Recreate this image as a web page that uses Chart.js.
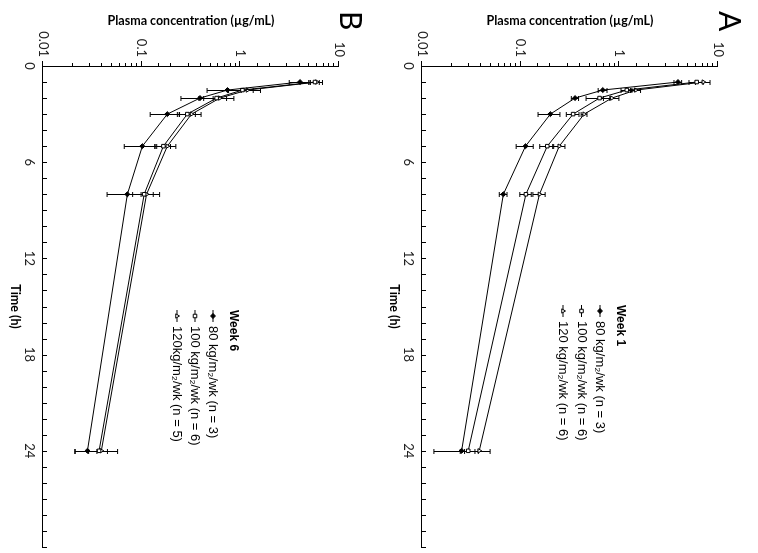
<!DOCTYPE html>
<html>
<head>
<meta charset="utf-8">
<script src="https://cdn.jsdelivr.net/npm/chart.js@4.4.0/dist/chart.umd.min.js"></script>
<style>
  html, body { margin: 0; padding: 0; background: #fff; overflow: hidden; width: 758px; height: 553px; }
  /* the figure is drawn upright and then turned a quarter turn clockwise */
  #fig { position: absolute; left: 0; top: 0; width: 553px; height: 758px;
         transform-origin: 0 0; transform: translate(758px, 0) rotate(90deg); }
  canvas { display: block; }
</style>
</head>
<body>
<div id="fig">
  <canvas id="chartA" width="553" height="379"></canvas>
  <canvas id="chartB" width="553" height="379"></canvas>
</div>
<script>
// sampling times (h)
const times = [1, 1.5, 2, 3, 5, 8, 24];
const yTickLabels = ['0.01', '0.1', '1', '10'];
const timeTickLabels = [0, 6, 12, 18, 24];

// Week 1 (panel A), mean and SD in µg/mL
const a80 = [3.93, 0.68, 0.356, 0.20, 0.112, 0.0667, 0.0252];
const a80sd = [0.35, 0.07, 0.03, 0.05, 0.022, 0.006, 0.012];
const a100 = [6.08, 1.19, 0.63, 0.34, 0.186, 0.113, 0.0294];
const a100sd = [1.0, 0.15, 0.17, 0.05, 0.03, 0.015, 0.005];
const a120 = [7.1, 1.47, 0.84, 0.44, 0.246, 0.155, 0.038];
const a120sd = [1.2, 0.17, 0.15, 0.03, 0.035, 0.022, 0.011];
const labelsA = ['80 kg/m\u2082/wk (n = 3)', '100 kg/m\u2082/wk (n = 6)', '120 kg/m\u2082/wk (n = 6)'];

// Week 6 (panel B)
const b80 = [4.03, 0.74, 0.39, 0.182, 0.1016, 0.0716, 0.0282];
const b80sd = [0.9, 0.28, 0.14, 0.06, 0.035, 0.027, 0.007];
const b100 = [5.71, 1.05, 0.575, 0.29, 0.166, 0.106, 0.037];
const b100sd = [0.6, 0.3, 0.15, 0.06, 0.03, 0.025, 0.008];
const b120 = [5.95, 1.18, 0.62, 0.32, 0.182, 0.112, 0.039];
const b120sd = [0.85, 0.42, 0.24, 0.08, 0.04, 0.04, 0.018];
const labelsB = ['80 kg/m\u2082/wk (n = 3)', '100 kg/m\u2082/wk (n = 6)', '120kg/m\u2082/wk (n = 5)'];

const markers = [
  { pointStyle: 'rectRot', fill: '#000' },
  { pointStyle: 'rect', fill: '#fff' },
  { pointStyle: 'triangle', fill: '#fff' }
];

const decor = {
  id: 'decor',
  beforeDatasetsDraw(chart) {
    // error bars
    const ctx = chart.ctx, xs = chart.scales.x, ys = chart.scales.y;
    ctx.save();
    ctx.strokeStyle = '#000';
    ctx.lineWidth = 1;
    chart.data.datasets.forEach(ds => {
      ds.data.forEach((p, j) => {
        const sd = ds.sd[j];
        const x = Math.round(xs.getPixelForValue(p.x)) + 0.5;
        const lo = ys.getPixelForValue(Math.max(p.y - sd, 0.006));
        const hi = ys.getPixelForValue(p.y + sd);
        ctx.beginPath();
        ctx.moveTo(x, lo); ctx.lineTo(x, hi);
        ctx.moveTo(x - 2.5, lo); ctx.lineTo(x + 2.5, lo);
        ctx.moveTo(x - 2.5, hi); ctx.lineTo(x + 2.5, hi);
        ctx.stroke();
      });
    });
    ctx.restore();
  },
  afterDraw(chart, args, opts) {
    const ctx = chart.ctx, xs = chart.scales.x, ys = chart.scales.y;
    const area = chart.chartArea;
    ctx.save();
    ctx.strokeStyle = '#000';
    ctx.lineWidth = 1;
    // time ticks point inward
    ctx.beginPath();
    xs.ticks.forEach(t => {
      const px = Math.round(xs.getPixelForValue(t.value)) + 0.5;
      ctx.moveTo(px, area.bottom);
      ctx.lineTo(px, area.bottom - 4);
    });
    // log ticks point outward
    ys.ticks.forEach(t => {
      const py = Math.round(ys.getPixelForValue(t.value)) + 0.5;
      const e = Math.log10(t.value);
      const len = Math.abs(e - Math.round(e)) < 1e-6 ? 5 : 3;
      ctx.moveTo(area.left - len, py);
      ctx.lineTo(area.left, py);
    });
    ctx.stroke();

    // panel letter
    ctx.fillStyle = '#000';
    ctx.font = '30px Lato';
    ctx.textBaseline = 'top';
    ctx.textAlign = 'left';
    ctx.fillText(opts.letter, 11, 14);

    // legend
    ctx.textBaseline = 'middle';
    ctx.font = 'bold 12px "Liberation Sans"';
    ctx.fillText(opts.week, opts.lx, opts.ly);
    ctx.font = '13px "Liberation Sans"';
    chart.data.datasets.forEach((ds, i) => {
      const y = opts.ly + opts.first + i * opts.step;
      ctx.beginPath();
      ctx.moveTo(opts.lx, y); ctx.lineTo(opts.lx + 12, y);
      ctx.stroke();
      ctx.fillStyle = ds.pointBackgroundColor;
      Chart.helpers.drawPoint(ctx, { pointStyle: ds.pointStyle, radius: 2.5, rotation: 0, borderWidth: 1 }, opts.lx + 6, y);
      ctx.fillStyle = '#000';
      ctx.fillText(ds.label, opts.lx + 16, y);
    });
    ctx.restore();
  }
};

function makeSeries(vals, sds, label, i) {
  return {
    label: label,
    data: times.map((t, j) => ({ x: t, y: vals[j] })),
    sd: sds,
    borderColor: '#000',
    borderWidth: 1,
    tension: 0,
    pointStyle: markers[i].pointStyle,
    pointRadius: 2.5,
    pointBackgroundColor: markers[i].fill,
    pointBorderColor: '#000',
    pointBorderWidth: 1
  };
}

function makeChart(id, series, decorOpts) {
  return new Chart(document.getElementById(id), {
    type: 'line',
    data: { datasets: series },
    options: {
      responsive: false,
      animation: false,
      devicePixelRatio: 1,
      layout: { padding: { left: 0, top: 40, right: 0, bottom: 0 } },
      scales: {
        x: {
          type: 'linear',
          min: 0,
          max: 30,
          grid: { display: true, drawOnChartArea: false, drawTicks: false },
          border: { display: true, color: '#000', width: 1 },
          ticks: {
            stepSize: 1,
            autoSkip: false,
            maxRotation: 0,
            padding: 6,
            color: '#222',
            font: { family: 'Lato', size: 13 },
            callback: v => timeTickLabels.includes(v) ? String(v) : ''
          },
          title: {
            display: true,
            text: 'Time (h)',
            color: '#000',
            font: { family: 'Lato', size: 12.5, weight: 'bold' },
            padding: { top: 0, bottom: 8 }
          },
          afterFit: s => { s.height = 43; }
        },
        y: {
          type: 'logarithmic',
          min: 0.01,
          max: 10,
          grid: { display: true, drawOnChartArea: false, drawTicks: false },
          border: { display: true, color: '#000', width: 1 },
          ticks: {
            autoSkip: false,
            padding: 9,
            color: '#222',
            font: { family: 'Lato', size: 13 },
            callback: v => {
              const e = Math.log10(v), r = Math.round(e);
              return Math.abs(e - r) < 1e-6 ? yTickLabels[r + 2] : '';
            }
          },
          title: {
            display: true,
            text: 'Plasma concentration (\u00b5g/mL)',
            color: '#000',
            font: { family: 'Lato', size: 12.5, weight: 'bold' },
            padding: { top: 13, bottom: 0 }
          },
          afterFit: s => { s.width = 66; }
        }
      },
      plugins: {
        legend: { display: false },
        tooltip: { enabled: false },
        decor: decorOpts
      }
    },
    plugins: [decor]
  });
}

makeChart('chartA', [
  makeSeries(a80, a80sd, labelsA[0], 0),
  makeSeries(a100, a100sd, labelsA[1], 1),
  makeSeries(a120, a120sd, labelsA[2], 2)
], { letter: 'A', week: 'Week 1', lx: 305, ly: 138, first: 20, step: 18.5 });

makeChart('chartB', [
  makeSeries(b80, b80sd, labelsB[0], 0),
  makeSeries(b100, b100sd, labelsB[1], 1),
  makeSeries(b120, b120sd, labelsB[2], 2)
], { letter: 'B', week: 'Week 6', lx: 310, ly: 146, first: 20, step: 18 });
</script>
</body>
</html>
